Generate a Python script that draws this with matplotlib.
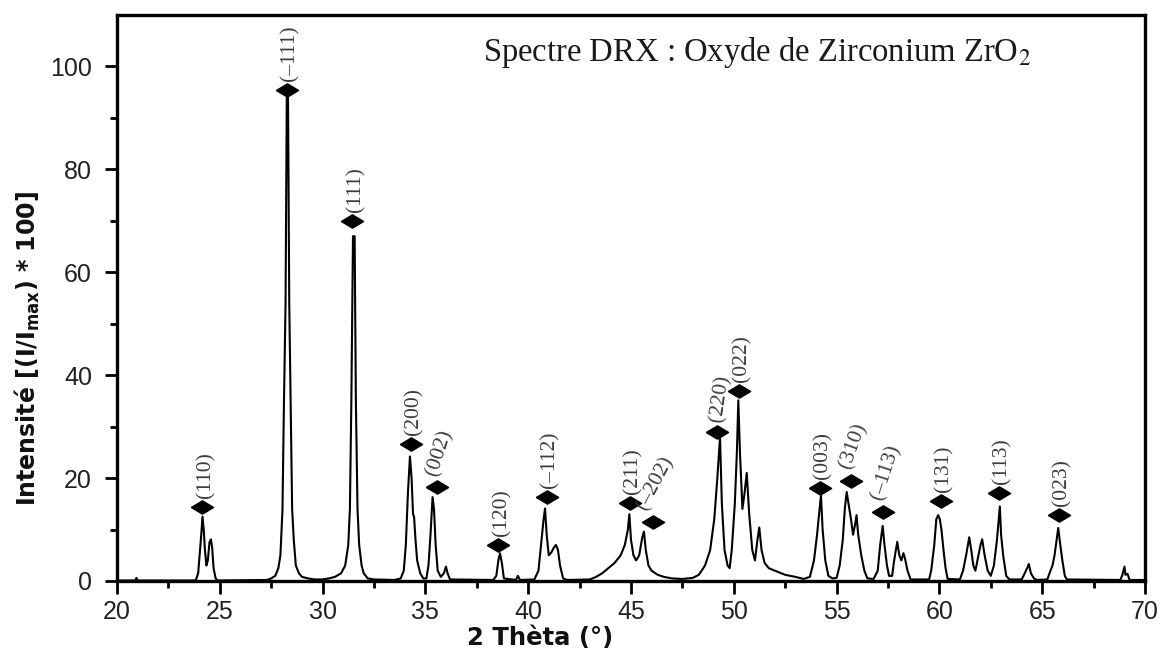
import matplotlib
matplotlib.use('Agg')
import matplotlib.pyplot as plt

# Spectre DRX ZrO2 : points
two_theta = [20.0, 20.9, 20.95, 21.0, 23.8,
             23.85, 23.95, 24.03, 24.1, 24.16, 24.22, 24.28, 24.35, 24.42, 24.5, 24.57, 24.63, 24.7, 24.8, 24.9,
             27.3, 27.5, 27.7, 27.85, 27.95, 28.05, 28.12, 28.2, 28.26, 28.32, 28.38, 28.45, 28.52, 28.6, 28.7,
             28.85, 29.0, 29.3, 29.6, 30.0, 30.3, 30.6, 30.9, 31.1, 31.25, 31.33, 31.4, 31.48, 31.56, 31.62,
             31.7, 31.78, 31.9, 32.0, 32.2, 32.5, 33.5, 33.8, 33.95, 34.05, 34.15, 34.25, 34.33, 34.4, 34.45,
             34.52, 34.6, 34.75, 34.9, 35.05, 35.15, 35.25, 35.35, 35.42, 35.5, 35.6, 35.75, 35.9, 36.0, 36.08,
             36.2, 38.3, 38.45, 38.55, 38.63, 38.72, 38.82, 39.4, 39.5, 39.6, 40.3, 40.5, 40.65, 40.75, 40.82,
             40.9, 41.0, 41.12, 41.25, 41.35, 41.45, 41.55, 41.7, 41.9, 43.0, 43.3, 43.6, 43.9, 44.2, 44.5,
             44.7, 44.85, 44.92, 45.0, 45.12, 45.25, 45.4, 45.55, 45.63, 45.72, 45.85, 46.0, 46.3, 46.6, 47.0,
             47.5, 48.0, 48.3, 48.6, 48.85, 49.05, 49.2, 49.33, 49.42, 49.55, 49.7, 49.8, 49.9, 50.05, 50.15,
             50.22, 50.3, 50.42, 50.52, 50.63, 50.75, 50.9, 51.03, 51.15, 51.24, 51.35, 51.5, 51.7, 52.0, 52.5,
             53.0, 53.4, 53.7, 53.9, 54.05, 54.15, 54.24, 54.32, 54.45, 54.6, 54.8, 55.0, 55.15, 55.3, 55.4,
             55.49, 55.58, 55.7, 55.8, 55.9, 55.97, 56.05, 56.2, 56.35, 56.5, 56.8, 57.0, 57.12, 57.24, 57.33,
             57.45, 57.55, 57.7, 57.8, 57.95, 58.05, 58.15, 58.25, 58.32, 58.45, 58.6, 59.5, 59.6, 59.75, 59.85,
             59.94, 60.02, 60.1, 60.2, 60.3, 60.4, 61.0, 61.15, 61.3, 61.45, 61.55, 61.65, 61.75, 61.85, 62.0,
             62.08, 62.2, 62.35, 62.5, 62.65, 62.8, 62.94, 63.0, 63.1, 63.25, 63.4, 64.0, 64.15, 64.3, 64.35,
             64.45, 64.6, 64.75, 65.25, 65.4, 65.5, 65.6, 65.7, 65.78, 65.88, 65.98, 66.1, 66.2, 68.8, 68.9,
             69.0, 69.05, 69.15, 69.25, 70.0]
intensity = [0.1, 0.1, 0.6, 0.1, 0.1,
             0.3, 1.5, 5.5, 9.0, 12.5, 10.0, 6.0, 3.0, 4.0, 7.5, 8.1, 6.5, 2.5, 0.5, 0.1,
             0.2, 0.5, 1.0, 2.5, 5.0, 13.8, 34.0, 54.0, 94.0, 94.0, 54.0, 34.0, 14.0, 8.0, 3.0,
             1.5, 0.8, 0.5, 0.3, 0.3, 0.5, 0.8, 1.5, 3.0, 7.0, 14.0, 35.0, 67.0, 67.0, 35.0,
             14.0, 7.0, 3.0, 1.5, 0.5, 0.3, 0.2, 0.5, 2.0, 7.0, 17.0, 24.2, 20.0, 13.0, 12.5,
             8.0, 4.0, 1.5, 0.5, 0.5, 3.0, 9.0, 16.3, 14.0, 7.0, 2.0, 0.8, 1.5, 2.8, 1.5,
             0.3, 0.2, 1.0, 4.0, 5.4, 3.5, 0.5, 0.2, 1.0, 0.2, 0.3, 2.0, 8.0, 12.0, 14.1,
             9.0, 5.0, 5.5, 6.5, 7.0, 6.0, 3.0, 0.5, 0.2, 0.3, 0.8, 1.5, 2.5, 3.5, 5.0,
             7.0, 10.0, 13.0, 8.0, 5.0, 4.0, 5.0, 8.5, 9.6, 6.0, 3.0, 2.0, 1.2, 0.8, 0.5,
             0.4, 0.6, 1.2, 3.0, 6.0, 12.0, 20.0, 28.0, 15.0, 6.0, 3.0, 2.5, 6.0, 15.0, 25.0,
             35.1, 25.0, 14.0, 17.0, 21.0, 13.0, 6.0, 4.0, 8.0, 10.4, 6.0, 3.5, 2.5, 2.0, 1.2,
             0.8, 0.4, 0.8, 4.0, 9.0, 13.0, 16.7, 10.0, 4.0, 1.0, 0.5, 0.6, 3.0, 8.0, 14.0,
             17.3, 15.0, 12.0, 9.0, 11.0, 12.8, 9.0, 5.0, 2.0, 0.5, 0.4, 2.0, 7.0, 10.7, 7.0,
             3.0, 1.0, 1.0, 4.0, 7.6, 5.0, 4.0, 5.4, 4.5, 2.0, 0.3, 0.3, 2.0, 7.0, 12.0,
             12.8, 12.0, 10.0, 6.0, 2.5, 0.4, 0.3, 2.0, 5.0, 8.5, 6.0, 3.0, 2.0, 4.0, 7.0,
             8.1, 5.0, 2.0, 1.0, 3.0, 8.0, 14.5, 9.0, 5.0, 1.0, 0.3, 0.3, 1.5, 2.8, 3.3,
             1.5, 0.5, 0.2, 0.3, 2.0, 3.0, 5.0, 8.0, 10.3, 7.0, 4.0, 1.0, 0.3, 0.2, 1.2,
             2.8, 1.2, 1.4, 0.2, 0.2]

# indexation des pics (hkl)
peak_labels = ['(110)', '(–111)', '(111)', '(200)', '(002)', '(120)', '(–112)', '(211)',
               '(–202)', '(220)', '(022)', '(003)', '(310)', '(–113)', '(131)', '(113)', '(023)']
peak_x = [24.16, 28.28, 31.45, 34.29, 35.56, 38.55, 40.90, 44.95,
          46.06, 49.17, 50.27, 54.19, 55.68, 57.24, 60.06, 62.89, 65.81]
peak_y = [14.3, 95.5, 70.0, 26.6, 18.3, 7.0, 16.3, 15.2,
          11.5, 28.9, 37.0, 18.0, 19.5, 13.5, 15.6, 17.1, 12.8]

# some labels are tilted in the original
label_rot = {'(002)': 72, '(–202)': 62, '(220)': 82, '(310)': 70, '(–113)': 72}

diamond = [(-1, 0), (0, 0.6), (1, 0), (0, -0.6), (-1, 0)]

# Figure
fig = plt.figure(figsize=(11.66, 6.48), dpi=100, facecolor='white')
ax = fig.add_axes([0.1003, 0.1034, 0.8817, 0.8735])

ax.plot(two_theta, intensity, color='black', lw=1.5)
ax.plot(peak_x, peak_y, linestyle='none', marker=diamond, ms=16, color='black')

for lab, px, py in zip(peak_labels, peak_x, peak_y):
    ax.annotate(lab, (px, py), xytext=(3, 9), textcoords='offset pixels',
                rotation=label_rot.get(lab, 90), ha='center', va='bottom',
                fontsize=15.5, family='Liberation Serif', color='#3c3c3c')

# Title inside the frame
ax.text(0.356, 0.934, 'Spectre DRX : Oxyde de Zirconium ZrO$_2$', transform=ax.transAxes,
        ha='left', va='center', fontsize=23.5, family='Liberation Serif',
        math_fontfamily='stix', color='#1a1a1a')

# Limits
ax.set_xlim(20, 70)
ax.set_ylim(0, 110)

# Ticks
ax.set_xticks(range(20, 71, 5))
ax.set_xticks([22.5 + 5 * i for i in range(10)], minor=True)
ax.set_yticks(range(0, 101, 20))
ax.set_yticks(range(10, 101, 20), minor=True)
ax.tick_params(which='major', direction='out', length=9, width=2, labelsize=18,
               labelcolor='#222222')
ax.tick_params(which='minor', direction='out', length=5, width=2)
ax.tick_params(axis='y', which='major', pad=9)
ax.tick_params(axis='x', which='major', pad=5)
for lbl in ax.get_xticklabels() + ax.get_yticklabels():
    lbl.set_family('Liberation Sans')

for sp in ax.spines.values():
    sp.set_linewidth(2.4)

# Labels
ax.set_xlabel('2 Thèta (°)', fontsize=17.5, fontweight='bold', color='#111111')
ax.xaxis.set_label_coords(0.412, -0.08)
ax.set_ylabel('Intensité [(I/I$_{\\bf max}$) * 100]', fontsize=17, fontweight='bold',
              color='#111111', math_fontfamily='dejavusans')
ax.yaxis.set_label_coords(-0.073, 0.41)

fig.savefig('out.png', dpi=100)
